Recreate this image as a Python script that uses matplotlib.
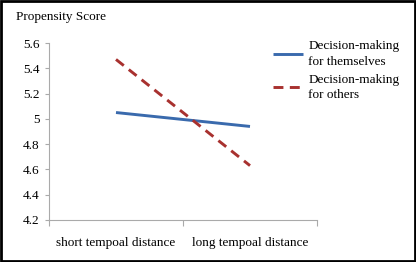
import matplotlib.pyplot as plt
from matplotlib.patches import Rectangle

categories = ['short tempoal distance', 'long tempoal distance']
themselves = [5.05, 4.94]
others = [5.47, 4.63]
yticks = [4.2, 4.4, 4.6, 4.8, 5, 5.2, 5.4, 5.6]

plt.rcParams['font.family'] = ['Liberation Serif', 'DejaVu Serif']
plt.rcParams['font.size'] = 9.5

fig = plt.figure(figsize=(4.16, 2.62), dpi=100)
ax = fig.add_axes([49 / 416, 1 - 220 / 262, 268 / 416, 177 / 262])

x = [0.5, 1.5]
ax.plot(x, themselves, color='#3a6aad', lw=2.1, solid_capstyle='butt',
        label='Decision-making\nfor themselves')
ax.plot(x, others, color='#a8312f', lw=2.1, dashes=(3.4, 2.2),
        label='Decision-making\nfor others')

ax.set_xlim(0, 2)
ax.set_ylim(4.2, 5.6)
ax.set_yticks(yticks)
ax.set_yticklabels(['%g' % v for v in yticks])
ax.set_xticks([0, 1, 2])
ax.set_xticklabels([])
ax.set_xticks(x, minor=True)
ax.set_xticklabels(categories, minor=True)
ax.tick_params(axis='x', which='minor', length=0, pad=12)
ax.tick_params(axis='x', which='major', length=4, color='#aaaaaa', direction='out')
ax.tick_params(axis='y', length=3, color='#aaaaaa', pad=4)
for s in ['top', 'right']:
    ax.spines[s].set_visible(False)
for s in ['left', 'bottom']:
    ax.spines[s].set_color('#aaaaaa')

fig.text(16 / 416, 1 - 17 / 262, 'Propensity Score', ha='left', va='center')

leg = ax.legend(loc='upper left', bbox_to_anchor=(273 / 416, 1 - 40 / 262),
                bbox_transform=fig.transFigure, frameon=False, handlelength=2.3,
                handletextpad=0.38, labelspacing=0.45, borderpad=0,
                borderaxespad=0)
for t in leg.get_texts():
    t.set_linespacing(1.4)

fig.patches.append(Rectangle((0.002, 0.003), 0.995, 0.993, transform=fig.transFigure,
                             fill=False, ec='black', lw=2))

fig.savefig('out.png', dpi=100)
